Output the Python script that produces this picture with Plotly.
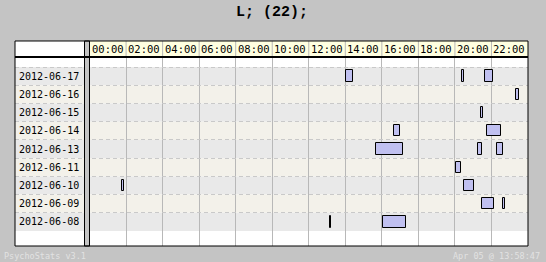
import plotly.graph_objects as go

# ---------------- data ----------------
dates = ["2012-06-17", "2012-06-16", "2012-06-15", "2012-06-14", "2012-06-13",
         "2012-06-11", "2012-06-10", "2012-06-09", "2012-06-08"]
hour_ticks = [0, 2, 4, 6, 8, 10, 12, 14, 16, 18, 20, 22]
hour_labels = ["00:00", "02:00", "04:00", "06:00", "08:00", "10:00",
               "12:00", "14:00", "16:00", "18:00", "20:00", "22:00"]

sess_date = ["2012-06-17", "2012-06-17", "2012-06-17",
             "2012-06-16",
             "2012-06-15",
             "2012-06-14", "2012-06-14",
             "2012-06-13", "2012-06-13", "2012-06-13",
             "2012-06-11",
             "2012-06-10", "2012-06-10",
             "2012-06-09", "2012-06-09",
             "2012-06-08", "2012-06-08"]
sess_start = [14.05, 20.36, 21.62,
              23.32,
              21.42,
              16.68, 21.78,
              15.66, 21.25, 22.29,
              20.04,
              1.78, 20.48,
              21.47, 22.62,
              13.18, 16.04]
sess_end = [14.40, 20.51, 22.09,
            23.52,
            21.52,
            16.99, 22.53,
            17.16, 21.47, 22.64,
            20.34,
            1.88, 21.05,
            22.15, 22.75,
            13.24, 17.33]

title_text = "L; (22);"
footer_left = "PsychoStats v3.1"
footer_right = "Apr 05 @ 13:58:47"

# ---------------- style ----------------
BG = "#c4c4c4"
ROW_A = "#e9e9e9"
ROW_B = "#f3f1ea"
HEAD = "#ffffe0"
GRID = "#b8b8b8"
DASH = "#c9c9c9"
BAR = "#c0c0f0"

X_MIN = -4.08     # label column lives left of 0 h
GAP = -0.276      # double separator between labels and chart
HEAD_TOP = 1.0847  # header top, in paper units

fig = go.Figure()

fig.add_trace(go.Bar(
    orientation="h",
    y=sess_date,
    base=sess_start,
    x=[e - s for s, e in zip(sess_start, sess_end)],
    width=0.62,
    marker=dict(color=BAR, line=dict(color="black", width=1)),
    hoverinfo="skip",
    showlegend=False,
))

shapes = []
# row backgrounds
for i, d in enumerate(dates):
    shapes.append(dict(type="rect", xref="x", yref="y", x0=X_MIN, x1=24,
                       y0=i - 0.5, y1=i + 0.5, fillcolor=ROW_A if i % 2 == 0 else ROW_B,
                       line=dict(width=0), layer="below"))
# header cells
shapes.append(dict(type="rect", xref="x", yref="paper", x0=X_MIN, x1=GAP, y0=1, y1=HEAD_TOP,
                   fillcolor="white", line=dict(width=0), layer="above"))
shapes.append(dict(type="rect", xref="x", yref="paper", x0=0, x1=24, y0=1, y1=HEAD_TOP,
                   fillcolor=HEAD, line=dict(width=0), layer="above"))
for h in hour_ticks[1:]:
    shapes.append(dict(type="line", xref="x", yref="paper", x0=h, x1=h, y0=1, y1=HEAD_TOP,
                       line=dict(color=GRID, width=1), layer="above"))
# separator gap
shapes.append(dict(type="rect", xref="x", yref="paper", x0=GAP, x1=-0.002, y0=0, y1=HEAD_TOP,
                   fillcolor=BG, line=dict(color="black", width=1), layer="above"))
# header bottom rule
shapes.append(dict(type="line", xref="paper", yref="paper", x0=0, x1=1, y0=1, y1=1,
                   line=dict(color="black", width=2), layer="above"))
# outer frame
shapes.append(dict(type="rect", xref="paper", yref="paper", x0=0, x1=1, y0=0, y1=HEAD_TOP,
                   line=dict(color="black", width=1), fillcolor="rgba(0,0,0,0)", layer="above"))

annotations = []
for h, lab in zip(hour_ticks, hour_labels):
    annotations.append(dict(x=h, y=1.042, xref="x", yref="paper", text=lab, showarrow=False,
                            xanchor="left", yanchor="middle", xshift=0,
                            font=dict(family="DejaVu Sans Mono", size=10.5, color="black")))
for d in dates:
    annotations.append(dict(x=0, y=d, xref="paper", yref="y", text=d, showarrow=False,
                            xanchor="left", yanchor="middle", xshift=2,
                            font=dict(family="DejaVu Sans Mono", size=10, color="black")))
annotations.append(dict(x=0.501, y=1.2354, xref="paper", yref="paper", text="<b>" + title_text + "</b>",
                        showarrow=False, xanchor="center", yanchor="middle",
                        font=dict(family="Liberation Mono", size=15, color="black")))
annotations.append(dict(x=-0.0253, y=-0.053, xref="paper", yref="paper", text=footer_left,
                        showarrow=False, xanchor="left", yanchor="middle",
                        font=dict(family="DejaVu Sans Mono", size=8.5, color="#e2e2e2")))
annotations.append(dict(x=1.028, y=-0.053, xref="paper", yref="paper", text=footer_right,
                        showarrow=False, xanchor="right", yanchor="middle",
                        font=dict(family="DejaVu Sans Mono", size=8.5, color="#e2e2e2")))

fig.update_layout(
    width=546, height=262,
    margin=dict(l=15, r=18, t=57, b=16, pad=0),
    paper_bgcolor=BG, plot_bgcolor="white",
    bargap=0,
    shapes=shapes, annotations=annotations,
    xaxis=dict(range=[X_MIN, 24], tickmode="array", tickvals=hour_ticks + [24],
               showgrid=True, gridcolor=GRID, gridwidth=1, showticklabels=False,
               ticks="", zeroline=False, showline=False, fixedrange=True),
    yaxis=dict(type="category", categoryorder="array", categoryarray=dates,
               range=[9.32, -1.05], tickson="boundaries", showgrid=True,
               gridcolor=DASH, gridwidth=1, griddash="4px,3px", showticklabels=False,
               ticks="", zeroline=False, showline=False, fixedrange=True),
)

fig.write_html("out.html")
